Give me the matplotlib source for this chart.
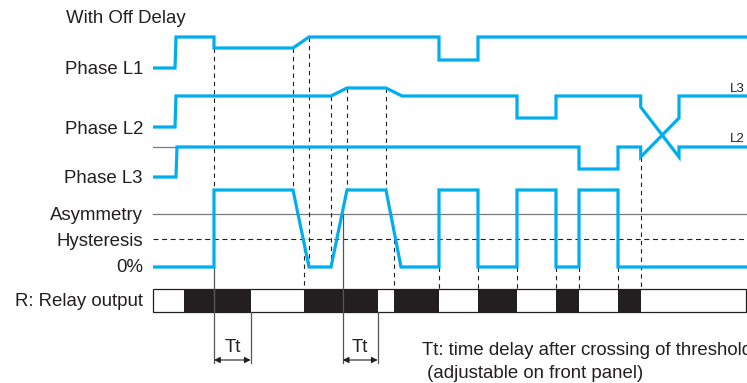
import matplotlib
matplotlib.use('Agg')
import matplotlib.pyplot as plt

plt.rcParams['font.family'] = ['Liberation Sans', 'DejaVu Sans']
plt.rcParams['lines.scale_dashes'] = False

# waveform break points (diagram pixel units, y grows downwards)
l1_x = [153, 175, 176, 214, 214, 293, 309, 439, 439, 478, 478, 747]
l1_y = [68, 68, 37, 37, 48, 48, 37, 37, 60, 60, 37, 37]

l2_x = [153, 175, 176, 331, 347, 386, 402, 517, 517, 556, 556, 640.7, 640.7, 679, 679, 747]
l2_y = [127, 127, 96, 96, 88, 88, 96, 96, 118, 118, 96, 96, 107, 157, 147, 147]

l3_x = [153, 176, 177, 579, 579, 618, 618, 640.7, 640.7, 679, 679, 747]
l3_y = [177, 177, 147, 147, 169, 169, 147, 147, 157, 118, 96, 96]

asym_x = [153, 214, 214, 293, 309, 331, 347, 386, 401, 439, 439, 478, 478,
          517, 517, 556, 556, 579, 579, 618, 618, 747]
asym_y = [267, 267, 190, 190, 267, 267, 190, 190, 267, 267, 190, 190, 267,
          267, 190, 190, 267, 267, 190, 190, 267, 267]

asym_level = 214
hyst_level = 239

relay_on = [184.3, 304, 393.5, 478.3, 555.7, 618.3]
relay_off = [250.7, 377.7, 439, 516.7, 579, 640.7]

# dashed guides: x, top, bottom
guide_x = [214, 293, 309, 331, 347, 386, 303.5, 393.5, 439, 478, 517, 556, 579, 618, 640.7]
guide_top = [48, 48, 37, 96, 88, 88, 239, 239, 267, 267, 267, 267, 267, 267, 157]
guide_bot = [190, 190, 267, 267, 190, 190, 289, 289, 289, 289, 289, 289, 289, 289, 289]

# Tt marks
tt_start = [214, 342.7]
tt_end = [250.7, 377.7]
tt_top = [267, 214]

blue = '#00AEEF'
ink = '#231F20'
fs = 13.4

fig = plt.figure(figsize=(7.47, 3.83), dpi=100)
ax = fig.add_axes([0, 0, 1, 1])
ax.set_xlim(0, 747)
ax.set_ylim(383, 0)
ax.axis('off')

# reference lines
ax.plot([153, 747], [asym_level, asym_level], color='#7a7a7a', lw=0.9)
ax.plot([153, 747], [hyst_level, hyst_level], color=ink, lw=0.8, dashes=(3.6, 2.6))
ax.plot([153, 175], [147, 147], color='#7a7a7a', lw=0.9)

for x, t, b in zip(guide_x, guide_top, guide_bot):
    ax.plot([x, x], [t, b], color=ink, lw=0.8, dashes=(3.2, 2.8))

for s, e, t in zip(tt_start, tt_end, tt_top):
    ax.plot([s, s], [t, 363], color='#555555', lw=0.9)
    ax.plot([e, e], [312, 363], color='#555555', lw=0.9)
    ax.annotate('', xy=(s, 360), xytext=(e, 360),
                arrowprops=dict(arrowstyle='<|-|>', color=ink, lw=0.8,
                                mutation_scale=9, shrinkA=0, shrinkB=0))
    ax.text((s + e) / 2, 352.5, 'Tt', fontsize=fs, color=ink, ha='center', va='baseline')

# signals
for xs, ys in [(l1_x, l1_y), (l2_x, l2_y), (l3_x, l3_y), (asym_x, asym_y)]:
    ax.plot(xs, ys, color=blue, lw=2.3, solid_joinstyle='miter', solid_capstyle='butt')

# relay output bar
ax.add_patch(plt.Rectangle((153, 289.3), 593, 23, facecolor='white', edgecolor=ink, lw=0.9))
ax.broken_barh([(a, b - a) for a, b in zip(relay_on, relay_off)], (289.3, 23),
               facecolor=ink, edgecolor='none')
ax.plot([214, 214], [289.3, 312.3], color='#555555', lw=0.9)

# labels
ax.text(66, 23, 'With Off Delay', fontsize=fs, color=ink, va='baseline')
labels = ['Phase L1', 'Phase L2', 'Phase L3', 'Asymmetry', 'Hysteresis', '0%', 'R: Relay output']
label_y = [74.5, 133.5, 183, 220, 245.5, 272.5, 306.5]
for s, y in zip(labels, label_y):
    ax.text(143, y, s, fontsize=fs, color=ink, ha='right', va='baseline')

ax.text(745, 92, 'L3', fontsize=9.5, color=ink, ha='right', va='baseline')
ax.text(745, 141.5, 'L2', fontsize=9.5, color=ink, ha='right', va='baseline')

ax.text(421.5, 354.8, 'Tt: time delay after crossing of threshold', fontsize=fs,
        color=ink, va='baseline')
ax.text(421.5, 377.5, ' (adjustable on front panel)', fontsize=fs, color=ink, va='baseline')

fig.savefig('out.png', dpi=100)
